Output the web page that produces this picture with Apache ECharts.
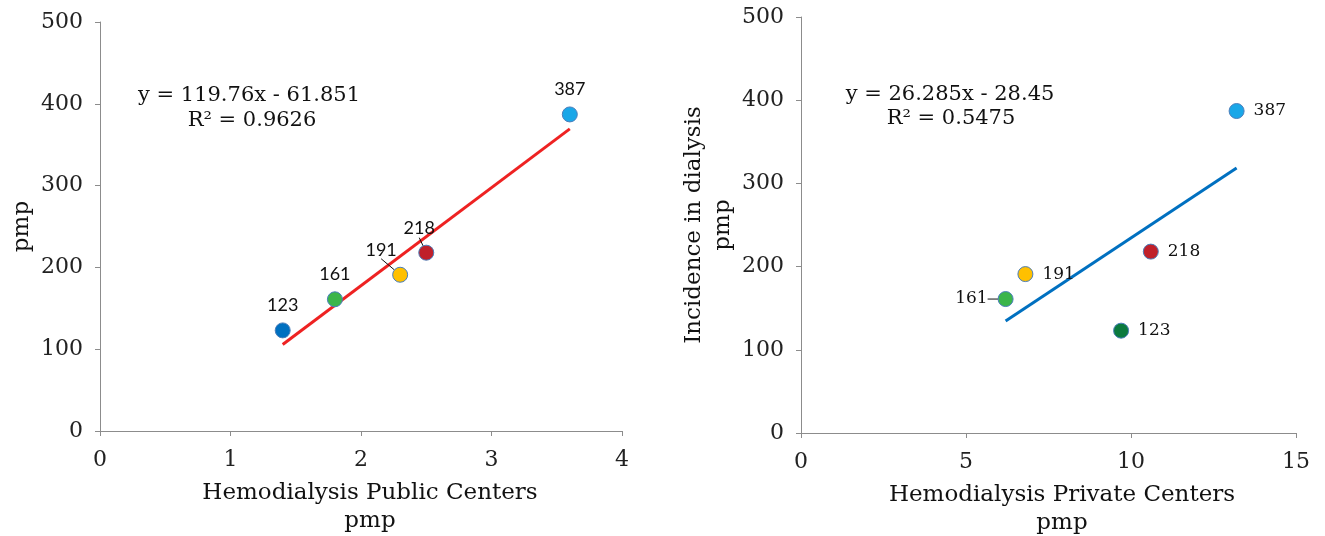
<!DOCTYPE html>
<html><head><meta charset="utf-8">
<script src="https://cdn.jsdelivr.net/npm/echarts@6/dist/echarts.min.js"></script>
<style>html,body{margin:0;padding:0;background:#fff}#c{width:1325px;height:536px}</style>
</head><body><div id="c"></div>
<script>
// ---- data ----
const incidence = [123, 161, 191, 218, 387];
const publicX = [1.4, 1.8, 2.3, 2.5, 3.6];
const privateX = [9.7, 6.2, 6.8, 10.6, 13.2];
const trendPublic = [[1.4, 105.8], [3.6, 369.3]];
const trendPrivate = [[6.2, 134.5], [13.2, 318.5]];
const eqPublic = ['y = 119.76x - 61.851', 'R² = 0.9626'];
const eqPrivate = ['y = 26.285x - 28.45', 'R² = 0.5475'];
const xNamePublic = 'Hemodialysis Public Centers\npmp';
const xNamePrivate = 'Hemodialysis Private Centers\npmp';
const yNamePublic = 'pmp';
const yNamePrivate = 'Incidence in dialysis\npmp';
const xTicksPublic = { min: 0, max: 4, interval: 1 };
const xTicksPrivate = { min: 0, max: 15, interval: 5 };
const yTicks = { min: 0, max: 500, interval: 100 };

// ---- styles ----
const colorsPublic = ['#0070C0', '#3BB54A', '#FFC000', '#C0202A', '#1AA7E8'];
const colorsPrivate = ['#0B7A3E', '#3BB54A', '#FFC000', '#C0202A', '#1AA7E8'];
const SERIF = '"DejaVu Serif", serif';
const SANS = 'Lato, "Liberation Sans", sans-serif';
const AXIS_COLOR = '#8c8c8c';
const leaderPublic = [false, false, true, true, false];
const leaderPrivate = [false, true, false, false, false];

function xAxis(idx, ticks, name, shift) {
  return {
    type: 'value', gridIndex: idx, min: ticks.min, max: ticks.max, interval: ticks.interval,
    name: name, nameLocation: 'middle', nameGap: 48,
    nameTextStyle: { fontFamily: SERIF, fontSize: 23, color: '#111', lineHeight: 28, padding: [0, 0, 0, shift] },
    axisLine: { show: true, lineStyle: { color: AXIS_COLOR, width: 1 } },
    axisTick: { show: true, length: 5, lineStyle: { color: AXIS_COLOR } },
    axisLabel: { fontFamily: SERIF, fontSize: 22, color: '#222', margin: 18 },
    splitLine: { show: false }
  };
}
function yAxis(idx, name) {
  return {
    type: 'value', gridIndex: idx, min: yTicks.min, max: yTicks.max, interval: yTicks.interval,
    name: name, nameLocation: 'middle', nameGap: 63,
    nameTextStyle: { fontFamily: SERIF, fontSize: 23, color: '#111', lineHeight: 29 },
    axisLine: { show: true, lineStyle: { color: AXIS_COLOR, width: 1 } },
    axisTick: { show: true, length: 5, lineStyle: { color: AXIS_COLOR } },
    axisLabel: { fontFamily: SERIF, fontSize: 22, color: '#222', margin: 17 },
    splitLine: { show: false }
  };
}

const pubData = publicX.map((x, i) => ({
  value: [x, incidence[i]],
  itemStyle: { color: colorsPublic[i] },
  labelLine: { show: leaderPublic[i] }
}));
const privData = privateX.map((x, i) => ({
  value: [x, incidence[i]],
  itemStyle: { color: colorsPrivate[i] },
  labelLine: { show: leaderPrivate[i] }
}));

const eqFont = '21px ' + SERIF;
const option = {
  animation: false,
  backgroundColor: '#fff',
  grid: [
    { left: 100, top: 22, width: 522, height: 409, containLabel: false, outerBoundsMode: 'none' },
    { left: 801, top: 17, width: 495, height: 416, containLabel: false, outerBoundsMode: 'none' }
  ],
  xAxis: [xAxis(0, xTicksPublic, xNamePublic, 18), xAxis(1, xTicksPrivate, xNamePrivate, 27)],
  yAxis: [yAxis(0, yNamePublic), yAxis(1, yNamePrivate)],
  graphic: [
    { type: 'text', x: 249, y: 85, style: { text: eqPublic[0], font: eqFont, fill: '#111', align: 'center' } },
    { type: 'text', x: 252, y: 110, style: { text: eqPublic[1], font: eqFont, fill: '#111', align: 'center' } },
    { type: 'text', x: 950, y: 84, style: { text: eqPrivate[0], font: eqFont, fill: '#111', align: 'center' } },
    { type: 'text', x: 951, y: 108, style: { text: eqPrivate[1], font: eqFont, fill: '#111', align: 'center' } }
  ],
  series: [
    {
      type: 'line', xAxisIndex: 0, yAxisIndex: 0, data: trendPublic, symbol: 'none',
      lineStyle: { color: '#EE2222', width: 3 }, z: 2, silent: true
    },
    {
      type: 'scatter', xAxisIndex: 0, yAxisIndex: 0, data: pubData, symbolSize: 15,
      itemStyle: { borderColor: '#4a7ebb', borderWidth: 1, opacity: 1 }, z: 3,
      label: {
        show: true, position: 'top', distance: 8, formatter: p => p.value[1],
        fontFamily: SANS, fontSize: 18, color: '#111'
      },
      labelLine: { lineStyle: { color: '#111', width: 1 } },
      labelLayout: p => {
        if (p.dataIndex === 2) return { dx: -19, dy: 0 };
        if (p.dataIndex === 3) return { dx: -7, dy: 1 };
        return {};
      }
    },
    {
      type: 'line', xAxisIndex: 1, yAxisIndex: 1, data: trendPrivate, symbol: 'none',
      lineStyle: { color: '#0070C0', width: 3 }, z: 2, silent: true
    },
    {
      type: 'scatter', xAxisIndex: 1, yAxisIndex: 1, data: privData, symbolSize: 15,
      itemStyle: { borderColor: '#4a7ebb', borderWidth: 1, opacity: 1 }, z: 3,
      label: {
        show: true, position: 'right', distance: 9, formatter: p => p.value[1],
        fontFamily: SERIF, fontSize: 17, color: '#111'
      },
      labelLine: { lineStyle: { color: '#111', width: 1 } },
      labelLayout: p => {
        if (p.dataIndex === 1) return { dx: -(p.labelRect.width + 35), dy: 0 };
        return {};
      }
    }
  ]
};
const chart = echarts.init(document.getElementById('c'), null, { renderer: 'canvas' });
chart.setOption(option);
</script>
</body></html>
